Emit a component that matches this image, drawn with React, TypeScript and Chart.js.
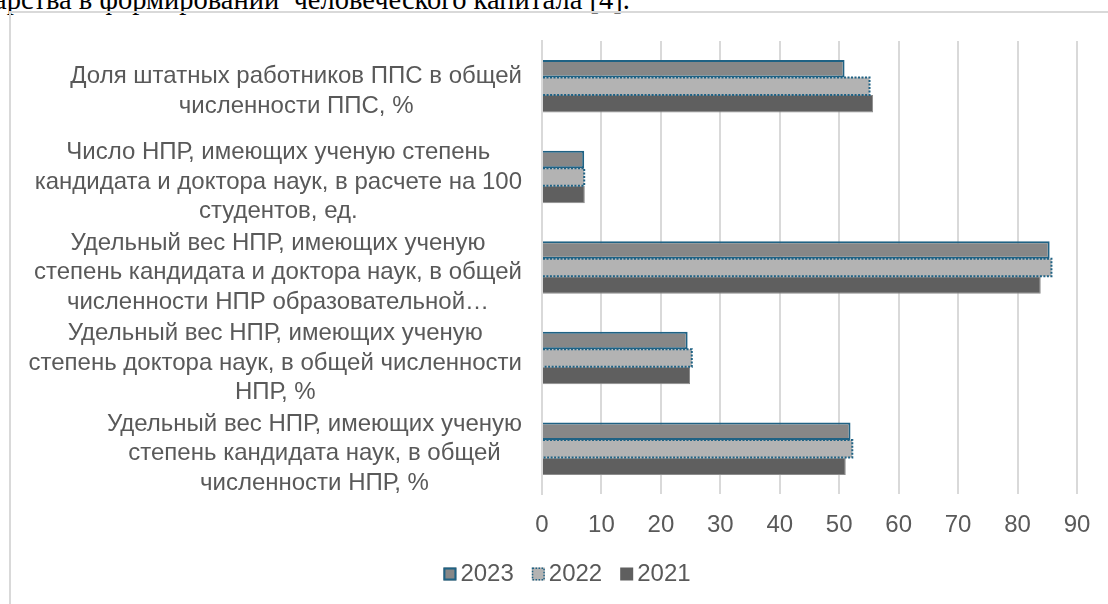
import React, { useEffect, useRef } from "react";
import { Chart, registerables } from "chart.js";

Chart.register(...registerables);

// ---------- data ----------
const categories: string[][] = [
  ["Доля штатных работников ППС в общей", "численности ППС, %"],
  ["Число НПР, имеющих ученую степень", "кандидата и доктора наук, в расчете на 100", "студентов, ед."],
  ["Удельный вес НПР, имеющих ученую", "степень кандидата и доктора наук, в общей", "численности НПР образовательной…"],
  ["Удельный вес НПР, имеющих ученую", "степень доктора наук, в общей численности", "НПР, %"],
  ["Удельный вес НПР, имеющих ученую", "степень кандидата наук, в общей", "численности НПР, %"],
];
const seriesNames = ["2023", "2022", "2021"];
const values2023 = [50.9, 7.1, 85.4, 24.5, 51.9];
const values2022 = [55.1, 7.1, 85.7, 25.2, 52.2];
const values2021 = [55.7, 7.2, 83.9, 24.9, 51.1];
const xMin = 0;
const xMax = 90;
const xStep = 10;

// ---------- styles ----------
const FONT = '"Liberation Sans", Arial, sans-serif';
const TEXT = "#595959";
const BLUE = "#1F6284";
const GRID = "#D9D9D9";
const FILL_2023 = "#878787";
const FILL_2022 = "#B3B3B3";
const FILL_2021 = "#5F5F5F";

const labelPlugin = {
  id: "wrappedLabels",
  afterDraw(chart: any) {
    const ctx = chart.ctx as CanvasRenderingContext2D;
    const yScale = chart.scales.y;
    ctx.save();
    ctx.font = `24px ${FONT}`;
    ctx.fillStyle = TEXT;
    ctx.textAlign = "center";
    ctx.textBaseline = "middle";
    const right = 522;
    const lh = 29.5;
    categories.forEach((lines, i) => {
      const cy = yScale.getPixelForValue(i) + 5;
      const w = Math.max(...lines.map((l) => ctx.measureText(l).width));
      const cx = right - w / 2;
      lines.forEach((l, j) => {
        ctx.fillText(l, cx, cy + (j - (lines.length - 1) / 2) * lh);
      });
    });
    ctx.restore();
  },
};

const dottedPlugin = {
  id: "dottedBorder",
  afterDatasetsDraw(chart: any) {
    const ctx = chart.ctx as CanvasRenderingContext2D;
    const meta = chart.getDatasetMeta(1);
    ctx.save();
    ctx.strokeStyle = BLUE;
    ctx.lineWidth = 2;
    ctx.setLineDash([2, 1.5]);
    meta.data.forEach((bar: any) => {
      const { x, y, base, height } = bar.getProps(["x", "y", "base", "height"], true);
      const top = y - height / 2;
      ctx.beginPath();
      ctx.moveTo(base, top);
      ctx.lineTo(x, top);
      ctx.lineTo(x, top + height);
      ctx.lineTo(base, top + height);
      ctx.stroke();
    });
    ctx.restore();
  },
};

const legendPlugin = {
  id: "customLegend",
  afterDraw(chart: any) {
    const ctx = chart.ctx as CanvasRenderingContext2D;
    ctx.save();
    ctx.font = `24px ${FONT}`;
    const box = 13;
    const gap = 4;
    const spacing = 18;
    const widths = seriesNames.map((n) => box + gap + ctx.measureText(n).width);
    const total = widths.reduce((a, b) => a + b, 0) + spacing * (seriesNames.length - 1);
    let x = 567 - total / 2;
    const cy = 574;
    seriesNames.forEach((name, i) => {
      const bx = x;
      const by = cy - box / 2;
      const ds = chart.data.datasets[i];
      ctx.fillStyle = ds.backgroundColor;
      ctx.fillRect(bx, by, box, box);
      if (i === 0) {
        ctx.strokeStyle = BLUE;
        ctx.lineWidth = 2;
        ctx.setLineDash([]);
        ctx.strokeRect(bx + 1, by + 1, box - 2, box - 2);
      } else if (i === 1) {
        ctx.strokeStyle = BLUE;
        ctx.lineWidth = 1.5;
        ctx.setLineDash([1.5, 1.5]);
        ctx.strokeRect(bx + 0.75, by + 0.75, box - 1.5, box - 1.5);
        ctx.setLineDash([]);
      }
      ctx.fillStyle = TEXT;
      ctx.textAlign = "left";
      ctx.textBaseline = "middle";
      ctx.fillText(name, bx + box + gap, cy);
      x += widths[i] + spacing;
    });
    ctx.restore();
  },
};

export default function App() {
  const ref = useRef<HTMLCanvasElement>(null);

  useEffect(() => {
    if (!ref.current) return;
    const chart = new Chart(ref.current, {
      type: "bar",
      data: {
        labels: categories.map((c) => c.join(" ")),
        datasets: [
          {
            label: seriesNames[0],
            data: values2023,
            backgroundColor: FILL_2023,
            borderColor: BLUE,
            borderWidth: 2,
          },
          {
            label: seriesNames[1],
            data: values2022,
            backgroundColor: FILL_2022,
            borderWidth: 0,
          },
          {
            label: seriesNames[2],
            data: values2021,
            backgroundColor: FILL_2021,
            borderColor: "#8C8C8C",
            borderWidth: 1,
          },
        ],
      },
      options: {
        indexAxis: "y",
        responsive: false,
        animation: false,
        devicePixelRatio: 1,
        layout: { padding: { top: 41, right: 31, bottom: 0, left: 0 } },
        datasets: {
          bar: { barPercentage: 1, categoryPercentage: 0.58 },
        },
        plugins: {
          legend: { display: false },
          tooltip: { enabled: false },
        },
        scales: {
          x: {
            min: xMin,
            max: xMax,
            ticks: {
              stepSize: xStep,
              color: TEXT,
              font: { size: 24, family: FONT },
              padding: 17,
              maxRotation: 0,
            },
            grid: { color: GRID, lineWidth: 2, drawTicks: false },
            border: { display: false },
            afterFit(scale: any) {
              scale.height = 110;
            },
          },
          y: {
            ticks: { display: false },
            grid: { display: false, drawTicks: false },
            border: { display: true, color: GRID, width: 2 },
            afterFit(scale: any) {
              scale.width = 542;
            },
          },
        },
      },
      plugins: [dottedPlugin, labelPlugin, legendPlugin],
    } as any);
    return () => chart.destroy();
  }, []);

  return (
    <div
      style={{
        position: "fixed",
        left: 0,
        top: 0,
        width: 1108,
        height: 604,
        overflow: "hidden",
        background: "#fff",
      }}
    >
      <div
        style={{
          position: "absolute",
          left: -6,
          top: -14.4,
          fontFamily: '"Liberation Serif", "Times New Roman", serif',
          fontSize: 28.5,
          lineHeight: "28.5px",
          whiteSpace: "pre",
          color: "#000",
        }}
      >
        арства в формировании  человеческого капитала [4].
      </div>
      <div
        style={{
          position: "absolute",
          left: 9,
          top: 11,
          width: 1300,
          height: 800,
          borderLeft: "2px solid #D9D9D9",
          borderTop: "2px solid #D9D9D9",
        }}
      />
      <canvas
        ref={ref}
        width={1108}
        height={604}
        style={{ position: "absolute", left: 0, top: 0, display: "block" }}
      />
    </div>
  );
}
